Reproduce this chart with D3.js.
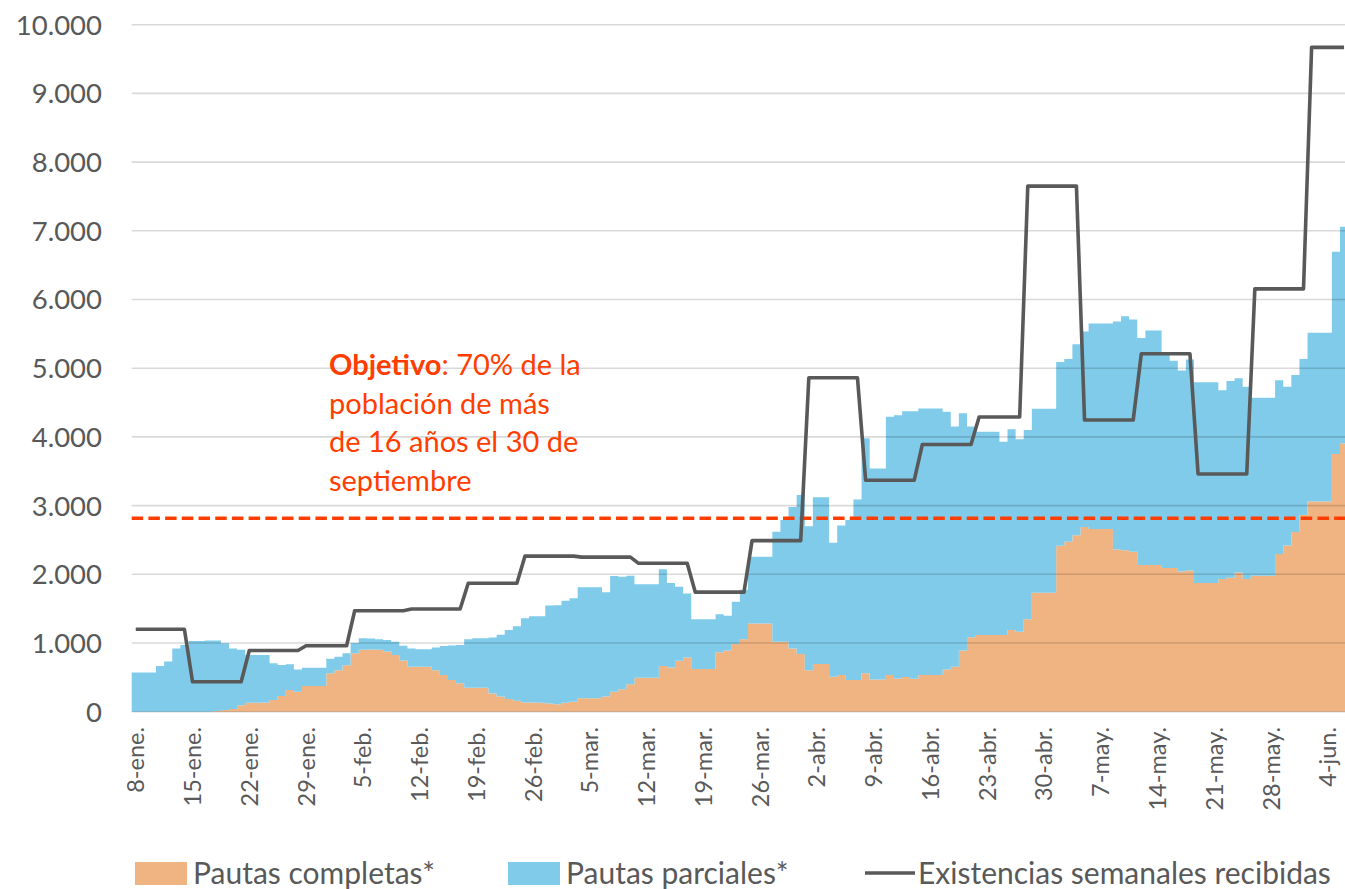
<!DOCTYPE html>
<html>
<head>
<meta charset="utf-8">
<script src="https://cdn.jsdelivr.net/npm/d3@7"></script>
<style>
  body { margin: 0; background: #fff; }
  svg text { font-family: Lato, "Open Sans", sans-serif; }
</style>
</head>
<body>
<svg id="chart" width="1345" height="889"></svg>
<script>
// Datos diarios desde el 8 de enero (150 días)
const firstDay = new Date(2021, 0, 8);

const completas = [
  0, 0, 0, 0, 0, 0, 0,
  0, 0, 0, 10, 25, 40, 95,
  130, 130, 135, 170, 230, 315, 290,
  375, 375, 375, 560, 605, 675, 850,
  900, 905, 900, 875, 825, 745, 655,
  655, 655, 605, 535, 460, 415, 350,
  350, 350, 265, 220, 185, 160, 135,
  135, 130, 120, 110, 130, 145, 195,
  195, 195, 220, 290, 325, 400, 495,
  495, 495, 665, 645, 740, 790, 620,
  620, 620, 865, 890, 985, 1055, 1285,
  1285, 1285, 1020, 1020, 920, 840, 605,
  695, 695, 510, 535, 460, 460, 560,
  470, 470, 535, 485, 505, 480, 535,
  535, 535, 615, 655, 890, 1085, 1115,
  1115, 1115, 1115, 1190, 1165, 1345, 1730,
  1730, 1730, 2415, 2475, 2570, 2690, 2660,
  2660, 2660, 2360, 2350, 2330, 2135, 2135,
  2135, 2090, 2090, 2040, 2055, 1875, 1875,
  1875, 1930, 1950, 2025, 1930, 1980, 1980,
  1980, 2295, 2420, 2615, 2865, 3060, 3060,
  3060, 3750, 3905
];

const parciales = [
  570, 570, 570, 665, 730, 920, 970,
  1030, 1030, 1035, 1025, 970, 880, 805,
  695, 695, 690, 535, 450, 375, 325,
  265, 265, 265, 210, 195, 175, 150,
  170, 160, 155, 170, 195, 215, 265,
  255, 255, 330, 420, 505, 555, 705,
  720, 720, 815, 900, 1005, 1085, 1225,
  1255, 1260, 1425, 1440, 1485, 1505, 1615,
  1615, 1615, 1520, 1685, 1640, 1580, 1360,
  1360, 1360, 1410, 1230, 1080, 930, 725,
  725, 725, 555, 505, 615, 720, 970,
  970, 970, 1600, 1770, 2060, 2315, 2095,
  2425, 2425, 1950, 2175, 2330, 2630, 3420,
  3070, 3070, 3760, 3830, 3870, 3895, 3880,
  3880, 3880, 3750, 3495, 3455, 3065, 2960,
  2960, 2960, 2815, 2920, 2800, 2755, 2680,
  2680, 2680, 2675, 2660, 2780, 2845, 2990,
  2990, 2990, 3320, 3405, 3380, 3305, 3415,
  3415, 3145, 3020, 2925, 3070, 2920, 2920,
  2920, 2750, 2865, 2830, 2800, 2590, 2590,
  2590, 2530, 2310, 2285, 2270, 2455, 2455,
  2455, 2945, 3155
];

const existencias = [
  1200, 1200, 1200, 1200, 1200, 1200, 1200,
  435, 435, 435, 435, 435, 435, 435,
  890, 890, 890, 890, 890, 890, 890,
  960, 960, 960, 960, 960, 960, 1470,
  1470, 1470, 1470, 1470, 1470, 1470, 1495,
  1495, 1495, 1495, 1495, 1495, 1495, 1870,
  1870, 1870, 1870, 1870, 1870, 1870, 2265,
  2265, 2265, 2265, 2265, 2265, 2265, 2250,
  2250, 2250, 2250, 2250, 2250, 2250, 2160,
  2160, 2160, 2160, 2160, 2160, 2160, 1740,
  1740, 1740, 1740, 1740, 1740, 1740, 2490,
  2490, 2490, 2490, 2490, 2490, 2490, 4860,
  4860, 4860, 4860, 4860, 4860, 4860, 3370,
  3370, 3370, 3370, 3370, 3370, 3370, 3890,
  3890, 3890, 3890, 3890, 3890, 3890, 4290,
  4290, 4290, 4290, 4290, 4290, 7650, 7650,
  7650, 7650, 7650, 7650, 7650, 4245, 4245,
  4245, 4245, 4245, 4245, 4245, 5210, 5210,
  5210, 5210, 5210, 5210, 5210, 3460, 3460,
  3460, 3460, 3460, 3460, 3460, 6155, 6155,
  6155, 6155, 6155, 6155, 6155, 9670, 9670,
  9670, 9670, 9670
];

// Etiquetas semanales del eje X (cada 7 días desde el 8-ene.)
const tickLabels = ["8-ene.", "15-ene.", "22-ene.", "29-ene.", "5-feb.", "12-feb.", "19-feb.",
  "26-feb.", "5-mar.", "12-mar.", "19-mar.", "26-mar.", "2-abr.", "9-abr.", "16-abr.",
  "23-abr.", "30-abr.", "7-may.", "14-may.", "21-may.", "28-may.", "4-jun."];
const yTicks = [0, 1000, 2000, 3000, 4000, 5000, 6000, 7000, 8000, 9000, 10000];
const objetivo = 2815;
const objetivoTexto = [": 70% de la", "población de más", "de 16 años el 30 de", "septiembre"];
const seriesNames = ["Pautas completas*", "Pautas parciales*", "Existencias semanales recibidas"];

const COLORS = { completas: "#f0b482", parciales: "#7fcbe9", linea: "#595959", objetivo: "#ff3d00", texto: "#595959" };

const svg = d3.select("#chart");
const plot = { left: 131.7, right: 1348.1, top: 24.7, bottom: 711.7 };

const days = d3.range(completas.length).map(i => d3.timeDay.offset(firstDay, i));
const rows = days.map((d, i) => ({ i, date: d, completas: completas[i], parciales: parciales[i] }));

const x = d3.scaleBand()
  .domain(d3.range(days.length))
  .range([plot.left, plot.right])
  .padding(0);

const y = d3.scaleLinear()
  .domain([0, 10000])
  .range([plot.bottom, plot.top]);

const es = d3.formatLocale({ decimal: ",", thousands: ".", grouping: [3], currency: ["", " €"] });
const fmt = es.format(",d");

// Áreas apiladas (columnas sin separación)
const stacked = d3.stack().keys(["completas", "parciales"])(rows);

const area = d3.area()
  .curve(d3.curveStepAfter)
  .x(d => d.x)
  .y0(d => y(d.y0))
  .y1(d => y(d.y1));

stacked.forEach(layer => {
  const pts = layer.map((d, i) => ({ x: x(i), y0: d[0], y1: d[1] }));
  const last = pts[pts.length - 1];
  pts.push({ x: x(days.length - 1) + x.bandwidth(), y0: last.y0, y1: last.y1 });
  svg.append("path")
    .attr("d", area(pts))
    .attr("fill", COLORS[layer.key]);
});

// Líneas de cuadrícula
svg.append("g")
  .selectAll("line")
  .data(yTicks)
  .enter()
  .append("line")
    .attr("x1", plot.left)
    .attr("x2", 1345)
    .attr("y1", d => y(d))
    .attr("y2", d => y(d))
    .attr("stroke", "rgba(0,0,0,0.15)")
    .attr("stroke-width", 1.6);

// Etiquetas eje Y
svg.append("g")
  .selectAll("text")
  .data(yTicks)
  .enter()
  .append("text")
    .attr("x", 102)
    .attr("y", d => y(d))
    .attr("dy", "0.36em")
    .attr("text-anchor", "end")
    .attr("fill", COLORS.texto)
    .style("font-size", "27.5px")
    .text(d => fmt(d));

// Etiquetas eje X
svg.append("g")
  .selectAll("text")
  .data(tickLabels)
  .enter()
  .append("text")
    .attr("transform", (d, k) => `translate(${x(k * 7) + x.bandwidth() / 2},727) rotate(-90)`)
    .attr("dy", "0.36em")
    .attr("text-anchor", "end")
    .attr("fill", COLORS.texto)
    .style("font-size", "23.5px")
    .text(d => d);

// Objetivo (línea discontinua)
svg.append("line")
  .attr("x1", plot.left)
  .attr("x2", 1345)
  .attr("y1", y(objetivo))
  .attr("y2", y(objetivo))
  .attr("stroke", COLORS.objetivo)
  .attr("stroke-width", 3.5)
  .attr("stroke-dasharray", "11.5,5.2");

// Existencias semanales
const line = d3.line()
  .x((d, i) => x(i) + x.bandwidth() / 2)
  .y(d => y(d));

svg.append("path")
  .attr("d", line(existencias))
  .attr("fill", "none")
  .attr("stroke", COLORS.linea)
  .attr("stroke-width", 3.6)
  .attr("stroke-linejoin", "round");

// Texto del objetivo
const note = svg.append("g").attr("fill", COLORS.objetivo).style("font-size", "29px");
const first = note.append("text").attr("x", 329).attr("y", 375);
first.append("tspan").style("font-weight", "bold").text("Objetivo");
first.append("tspan").text(objetivoTexto[0]);
objetivoTexto.slice(1).forEach((t, k) => {
  note.append("text").attr("x", 329).attr("y", 375 + 38.5 * (k + 1)).text(t);
});

// Leyenda
const legend = svg.append("g").attr("fill", COLORS.texto).style("font-size", "30px");
legend.append("rect").attr("x", 135).attr("y", 862).attr("width", 52).attr("height", 23).attr("fill", COLORS.completas);
legend.append("text").attr("x", 193).attr("y", 884).text(seriesNames[0]);
legend.append("rect").attr("x", 508).attr("y", 862).attr("width", 52).attr("height", 23).attr("fill", COLORS.parciales);
legend.append("text").attr("x", 566).attr("y", 884).text(seriesNames[1]);
legend.append("line").attr("x1", 865).attr("x2", 915).attr("y1", 873).attr("y2", 873)
  .attr("stroke", COLORS.linea).attr("stroke-width", 3.6);
legend.append("text").attr("x", 918).attr("y", 884).text(seriesNames[2]);
</script>
</body>
</html>
